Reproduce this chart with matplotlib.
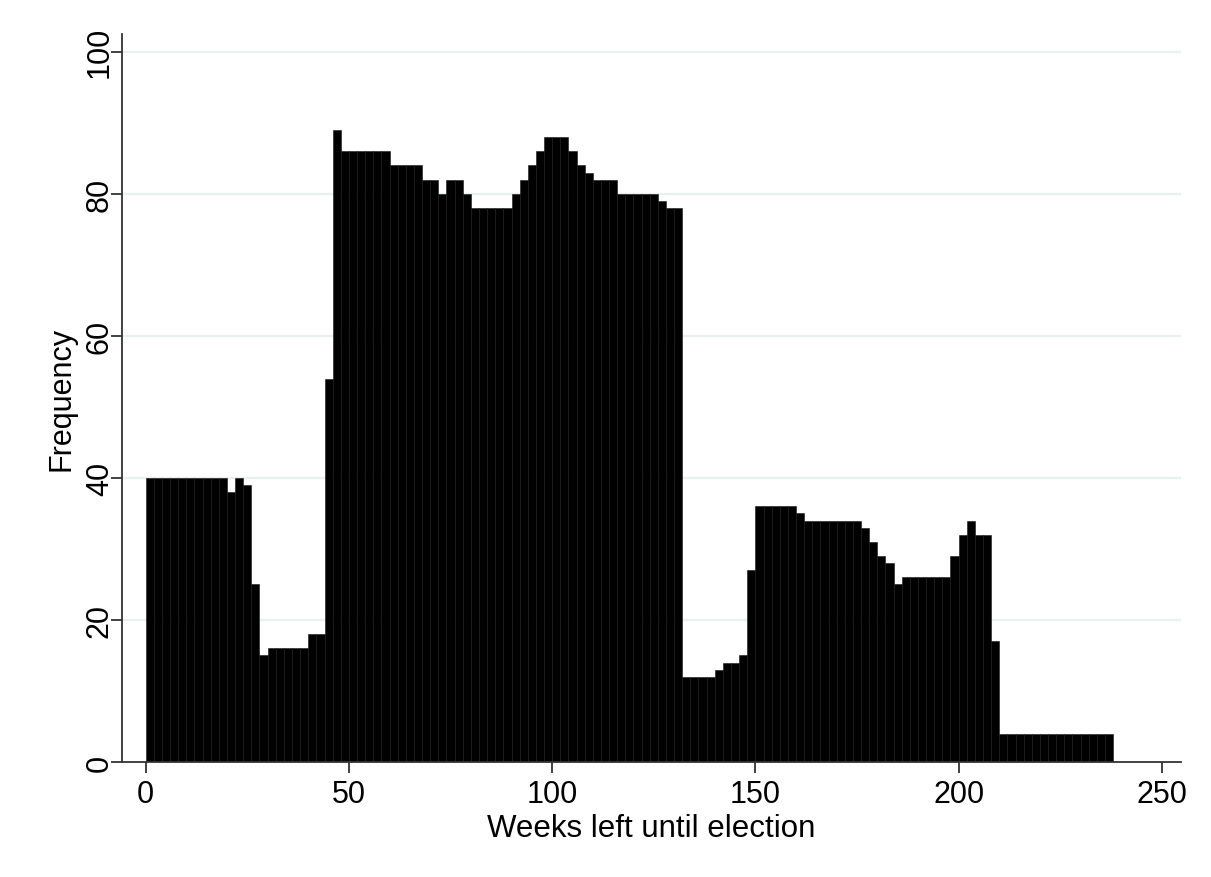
import numpy as np
import matplotlib
matplotlib.use("Agg")
import matplotlib.pyplot as plt

plt.rcParams['font.family'] = ['Liberation Sans', 'DejaVu Sans']

# histogram bins: width 2 weeks, starting at week 0
bin_width = 2
bin_start = 0
counts = [40, 40, 40, 40, 40, 40, 40, 40, 40, 40,
          38, 40, 39, 25, 15, 16, 16, 16, 16, 16,
          18, 18, 54, 89, 86, 86, 86, 86, 86, 86,
          84, 84, 84, 84, 82, 82, 80, 82, 82, 80,
          78, 78, 78, 78, 78, 80, 82, 84, 86, 88,
          88, 88, 86, 84, 83, 82, 82, 82, 80, 80,
          80, 80, 80, 79, 78, 78, 12, 12, 12, 12,
          13, 14, 14, 15, 27, 36, 36, 36, 36, 36,
          35, 34, 34, 34, 34, 34, 34, 34, 33, 31,
          29, 28, 25, 26, 26, 26, 26, 26, 26, 29,
          32, 34, 32, 32, 17, 4, 4, 4, 4, 4,
          4, 4, 4, 4, 4, 4, 4, 4, 4]

x_ticks = [0, 50, 100, 150, 200, 250]
y_ticks = [0, 20, 40, 60, 80, 100]

edges = bin_start + bin_width * np.arange(len(counts))

fig = plt.figure(figsize=(12.11, 8.78), dpi=100)
ax = fig.add_axes([0.1005, 0.131, 0.8747, 0.829])

# gridlines
for y in y_ticks[1:]:
    ax.axhline(y, color='#e8f0f2', lw=1.6, zorder=0)

ax.bar(edges, counts, width=bin_width, align='edge', color='black',
       edgecolor='#181818', linewidth=0.4, zorder=2)

ax.set_xlim(-5.9, 254.7)
ax.set_ylim(0, 102.5)
ax.set_xticks(x_ticks)
ax.set_yticks(y_ticks)
ax.set_yticklabels([str(v) for v in y_ticks], rotation=90, va='center')

for s in ['top', 'right']:
    ax.spines[s].set_visible(False)
for s in ['left', 'bottom']:
    ax.spines[s].set_color('#333333')
    ax.spines[s].set_linewidth(1.3)

ax.tick_params(direction='out', length=8, width=1.3, color='#333333',
               labelsize=22)
ax.tick_params(axis='x', pad=4)
ax.tick_params(axis='y', pad=-3)

ax.set_xlabel('Weeks left until election', fontsize=22.5, labelpad=3)
ax.set_ylabel('Frequency', fontsize=22, labelpad=6)

fig.savefig('out.png', dpi=100, facecolor='white')
